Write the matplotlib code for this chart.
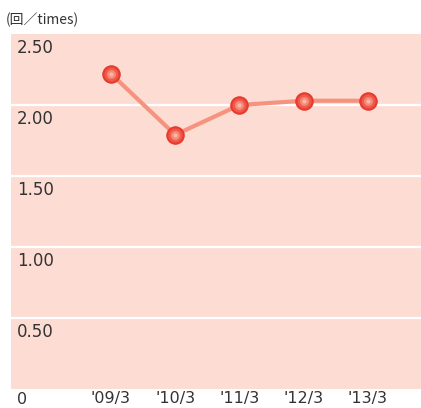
import numpy as np
import matplotlib
matplotlib.use("Agg")
import matplotlib.pyplot as plt
import matplotlib.transforms as mtransforms

# data
periods = ["'09/3", "'10/3", "'11/3", "'12/3", "'13/3"]
turnover = [2.22, 1.79, 2.00, 2.03, 2.03]
y_ticks = [0.5, 1.0, 1.5, 2.0, 2.5]
y_tick_labels = ["0.50", "1.00", "1.50", "2.00", "2.50"]
unit_label = "(回／times)"

BG = '#FDDDD3'
LINE = '#F5937E'
TXT = '#333333'

fig = plt.figure(figsize=(4.21, 4.08), dpi=100)
ax = fig.add_axes([11 / 421, 19 / 408, 410 / 421, 355 / 408])
ax.set_facecolor(BG)
for s in ax.spines.values():
    s.set_visible(False)

x = np.arange(len(periods))
ax.set_xlim(-1.556, 4.825)
ax.set_ylim(0, 2.5)
ax.set_xticks([])
ax.set_yticks([])

# white grid lines
for v in y_ticks[:-1]:
    ax.axhline(v, color='white', lw=1.6, zorder=1)

ax.plot(x, turnover, color=LINE, lw=3, zorder=2, solid_capstyle='round')
# marker with a faux radial shine
ax.plot(x, turnover, 'o', ms=12.5, color='#EC3D31', mec='#E5362C', mew=0.8, zorder=3)
ax.plot(x, turnover, 'o', ms=10, color='#F05A4A', mec='none', zorder=4)
ax.plot(x, turnover, 'o', ms=6.5, color='#F48A78', mec='none', zorder=5)
ax.plot(x, turnover, 'o', ms=3, color='#F8B8A8', mec='none', zorder=6)

# y labels sit inside the plot, just under each grid line
trans = mtransforms.blended_transform_factory(ax.transAxes, ax.transData)
off = mtransforms.offset_copy(trans, fig=fig, x=0, y=-14, units='dots')
for v, lab in zip(y_ticks, y_tick_labels):
    ax.text(6 / 410, v, lab, transform=off, fontsize=12, color=TXT,
            va='center', ha='left', family='DejaVu Sans')
off0 = mtransforms.offset_copy(trans, fig=fig, x=0, y=-10, units='dots')
ax.text(6 / 410, 0, "0", transform=off0, fontsize=11.5, color=TXT,
        va='center', ha='left', family='DejaVu Sans')

# x labels below
toff = mtransforms.offset_copy(ax.transData, fig=fig, x=0, y=-10, units='dots')
for xi, lab in zip(x, periods):
    ax.text(xi, 0, lab, transform=toff, fontsize=11.5, color=TXT,
            va='center', ha='center', family='DejaVu Sans')

fig.text(6 / 421, 1 - 20 / 408, unit_label, fontsize=10, color=TXT,
         va='center', ha='left', family=['Noto Sans CJK JP', 'DejaVu Sans'])

fig.savefig('out.png', dpi=100, facecolor='white')
